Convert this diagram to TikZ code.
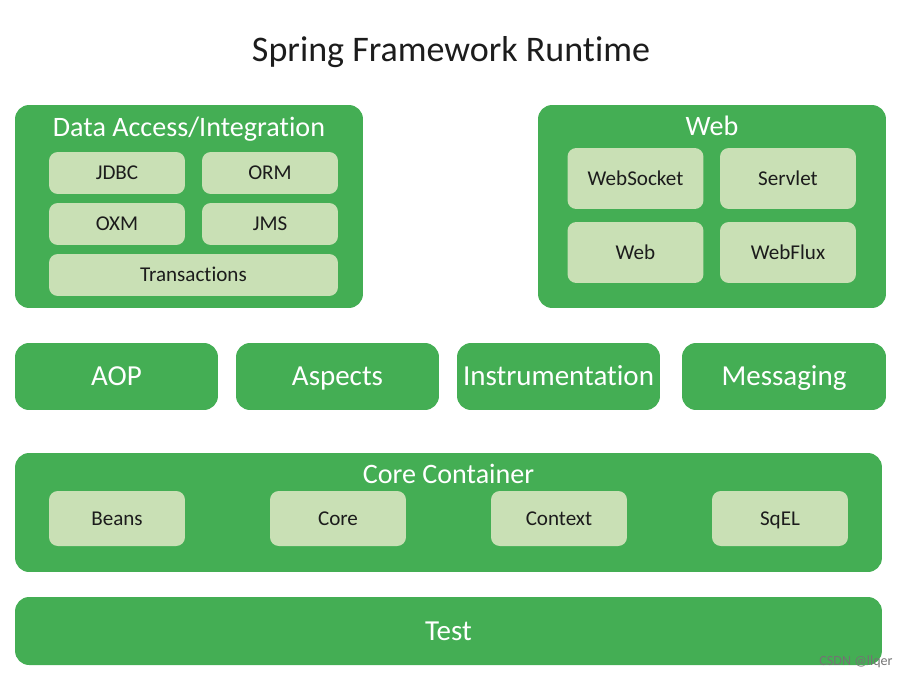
\documentclass[tikz,border=0pt]{standalone}
\usepackage{fontspec}
\setmainfont[Ligatures=NoCommon]{Carlito}
\usepackage{xcolor}
\usepackage{tikz}
\usetikzlibrary{positioning}
\definecolor{springgreen}{RGB}{68,174,84}
\definecolor{modulebg}{RGB}{201,224,181}
\definecolor{labeltext}{RGB}{28,28,28}

\begin{document}
\begin{tikzpicture}[
    x=0.02cm,y=-0.02cm,
    every node/.style={text depth=0pt},
    group/.style={fill=springgreen,draw=none,rounded corners=8pt,inner sep=0pt,outer sep=0pt},
    grouptitle/.style={text=white,font=\fontsize{16pt}{18pt}\selectfont,text height=10.3pt,inner sep=0pt},
    module/.style={fill=modulebg,draw=none,rounded corners=5pt,inner sep=0pt,outer sep=0pt,
      minimum width=2.72cm,text=labeltext,font=\fontsize{12pt}{14pt}\selectfont,text height=7.7pt},
    layer/.style={fill=springgreen,draw=none,rounded corners=8pt,inner sep=0pt,outer sep=0pt,
      minimum width=4.06cm,minimum height=1.34cm,text=white,font=\fontsize{16.5pt}{18pt}\selectfont,text height=10.6pt}
  ]
    \useasboundingbox (0,0) rectangle (903,676);
    \node[text=labeltext,font=\fontsize{20.5pt}{24pt}\selectfont,text height=13.2pt,inner sep=0pt] (runtime) at (451,50) {Spring Framework Runtime};

    % data access / integration
    \node[group,minimum width=6.96cm,minimum height=4.06cm] (data) at (189,206.5) {};
    \node[grouptitle] (datatitle) at (189,127) {Data Access/Integration};
    \node[module,minimum height=0.84cm] (jdbc) at (117,173) {JDBC};
    \node[module,minimum height=0.84cm] (orm) at (270,173) {ORM};
    \node[module,minimum height=0.84cm] (oxm) at (117,224) {OXM};
    \node[module,minimum height=0.84cm] (jms) at (270,224) {JMS};
    \node[module,minimum height=0.84cm,minimum width=5.78cm] (tx) at (193.5,275) {Transactions};

    % web
    \node[group,minimum width=6.96cm,minimum height=4.06cm] (web) at (712,206.5) {};
    \node[grouptitle] (webtitle) at (712,126) {Web};
    \node[module,minimum height=1.22cm] (websocket) at (635.5,178.5) {WebSocket};
    \node[module,minimum height=1.22cm] (servlet) at (788,178.5) {Servlet};
    \node[module,minimum height=1.22cm] (webmod) at (635.5,252.5) {Web};
    \node[module,minimum height=1.22cm] (webflux) at (788,252.5) {WebFlux};

    % middle layer
    \node[layer] (aop) at (116.5,376.5) {AOP};
    \node[layer] (aspects) at (337.5,376.5) {Aspects};
    \node[layer] (instr) at (558.5,376.5) {Instrumentation};
    \node[layer,minimum width=4.08cm] (msg) at (784,376.5) {Messaging};

    % core container
    \node[group,minimum width=17.34cm,minimum height=2.38cm] (core) at (448.5,512.5) {};
    \node[grouptitle] (coretitle) at (448.5,474) {Core Container};
    \node[module,minimum height=1.1cm] (beans) at (117,518.5) {Beans};
    \node[module,minimum height=1.1cm] (coremod) at (338,518.5) {Core};
    \node[module,minimum height=1.1cm] (context) at (559,518.5) {Context};
    \node[module,minimum height=1.1cm] (spel) at (780,518.5) {SqEL};

    % test
    \node[layer,minimum width=17.34cm,minimum height=1.36cm] (test) at (448.5,631) {Test};
    \node[text=black!55,font=\fontsize{8pt}{9pt}\selectfont,text height=5.2pt,inner sep=0pt] (mark) at (856,661) {CSDN @llqer};
  \end{tikzpicture}
\end{document}
